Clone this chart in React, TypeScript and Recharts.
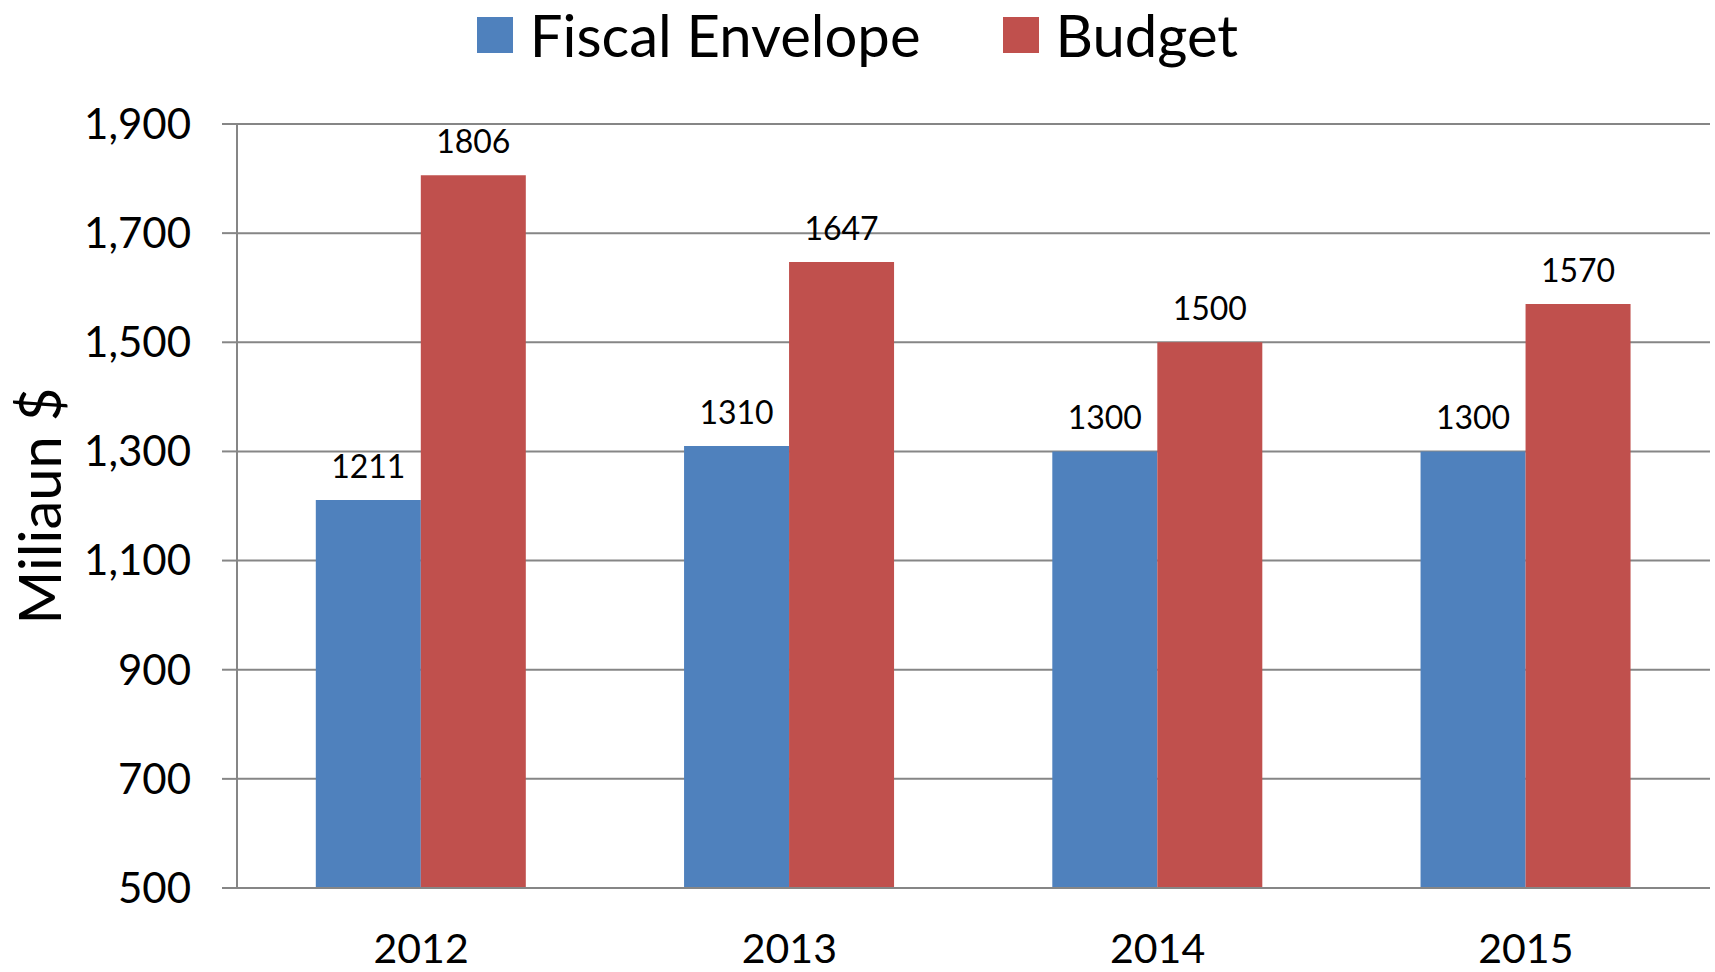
import { BarChart, Bar, XAxis, YAxis, CartesianGrid, Legend, LabelList } from "recharts";

const years = ["2012", "2013", "2014", "2015"];
const fiscalEnvelope = [1211, 1310, 1300, 1300];
const budget = [1806, 1647, 1500, 1570];
const yTicks = [500, 700, 900, 1100, 1300, 1500, 1700, 1900];
const edgeTicks = [0, 1, 2, 3, 4];
const seriesOrder = ["Fiscal Envelope", "Budget"];

const BLUE = "#4F81BD";
const RED = "#C0504D";
const GRID = "#868686";
const FONT = "Lato, 'Open Sans', sans-serif";

const chartData = years.map((year, i) => ({
  year,
  fiscal: fiscalEnvelope[i],
  budget: budget[i],
}));

function LegendContent(props: any) {
  // keep series order, recharts sorts the payload by name
  const items = [...(props.payload || [])].sort(
    (a: any, b: any) => seriesOrder.indexOf(a.value) - seriesOrder.indexOf(b.value),
  );
  return (
    <div
      style={{
        height: 70,
        display: "flex",
        justifyContent: "center",
        alignItems: "center",
        fontFamily: FONT,
      }}
    >
      {items.map((item: any, i: number) => (
        <div
          key={item.value}
          style={{ display: "flex", alignItems: "center", marginLeft: i > 0 ? 82 : 0 }}
        >
          <span style={{ width: 36, height: 36, background: item.color, display: "block" }} />
          <span
            style={{
              display: "block",
              fontSize: 58,
              color: "#000",
              marginLeft: 17,
              lineHeight: "70px",
              height: 70,
            }}
          >
            {item.value}
          </span>
        </div>
      ))}
    </div>
  );
}

function YLabel(props: any) {
  const vb = props.viewBox || { x: 0, y: 0, width: 0, height: 0 };
  const cx = 38;
  const cy = vb.y + vb.height / 2;
  return (
    <text
      x={cx}
      y={cy}
      transform={`rotate(-90, ${cx}, ${cy})`}
      textAnchor="middle"
      dominantBaseline="central"
      fontSize={58}
      fontFamily={FONT}
      fill="#000"
    >
      Miliaun $
    </text>
  );
}

export default function App() {
  return (
    <div style={{ position: "absolute", left: 0, top: 0, fontFamily: FONT, background: "#fff" }}>
      <BarChart
        width={1715}
        height={972}
        data={chartData}
        margin={{ top: 54, right: 5, bottom: 0, left: 0 }}
        barCategoryGap="21.4%"
        barGap={0}
      >
        <CartesianGrid vertical={false} stroke={GRID} strokeWidth={2} />
        <XAxis
          xAxisId="edges"
          type="number"
          domain={[0, 4]}
          ticks={edgeTicks}
          height={0}
          axisLine={false}
          tickSize={15}
          tickLine={{ stroke: GRID, strokeWidth: 2 }}
          tickFormatter={() => ""}
        />
        <XAxis
          dataKey="year"
          height={84}
          axisLine={{ stroke: GRID, strokeWidth: 2 }}
          tickLine={false}
          tickSize={0}
          tickMargin={46}
          tick={{ fill: "#000", fontSize: 41, fontFamily: FONT }}
        />
        <YAxis
          width={237}
          domain={[500, 1900]}
          ticks={yTicks}
          interval={0}
          axisLine={{ stroke: GRID, strokeWidth: 2 }}
          tickLine={{ stroke: GRID, strokeWidth: 2 }}
          tickSize={15}
          tickMargin={31}
          tick={{ fill: "#000", fontSize: 42, fontFamily: FONT }}
          tickFormatter={(v: number) => v.toLocaleString("en-US")}
          label={YLabel}
        />
        <Legend
          verticalAlign="top"
          content={LegendContent}
          wrapperStyle={{ top: 0, left: 0, width: 1715 }}
        />
        <Bar dataKey="fiscal" name="Fiscal Envelope" fill={BLUE} isAnimationActive={false}>
          <LabelList
            dataKey="fiscal"
            position="top"
            offset={22}
            fill="#000"
            fontSize={32}
            fontFamily={FONT}
          />
        </Bar>
        <Bar dataKey="budget" name="Budget" fill={RED} isAnimationActive={false}>
          <LabelList
            dataKey="budget"
            position="top"
            offset={22}
            fill="#000"
            fontSize={32}
            fontFamily={FONT}
          />
        </Bar>
      </BarChart>
    </div>
  );
}
